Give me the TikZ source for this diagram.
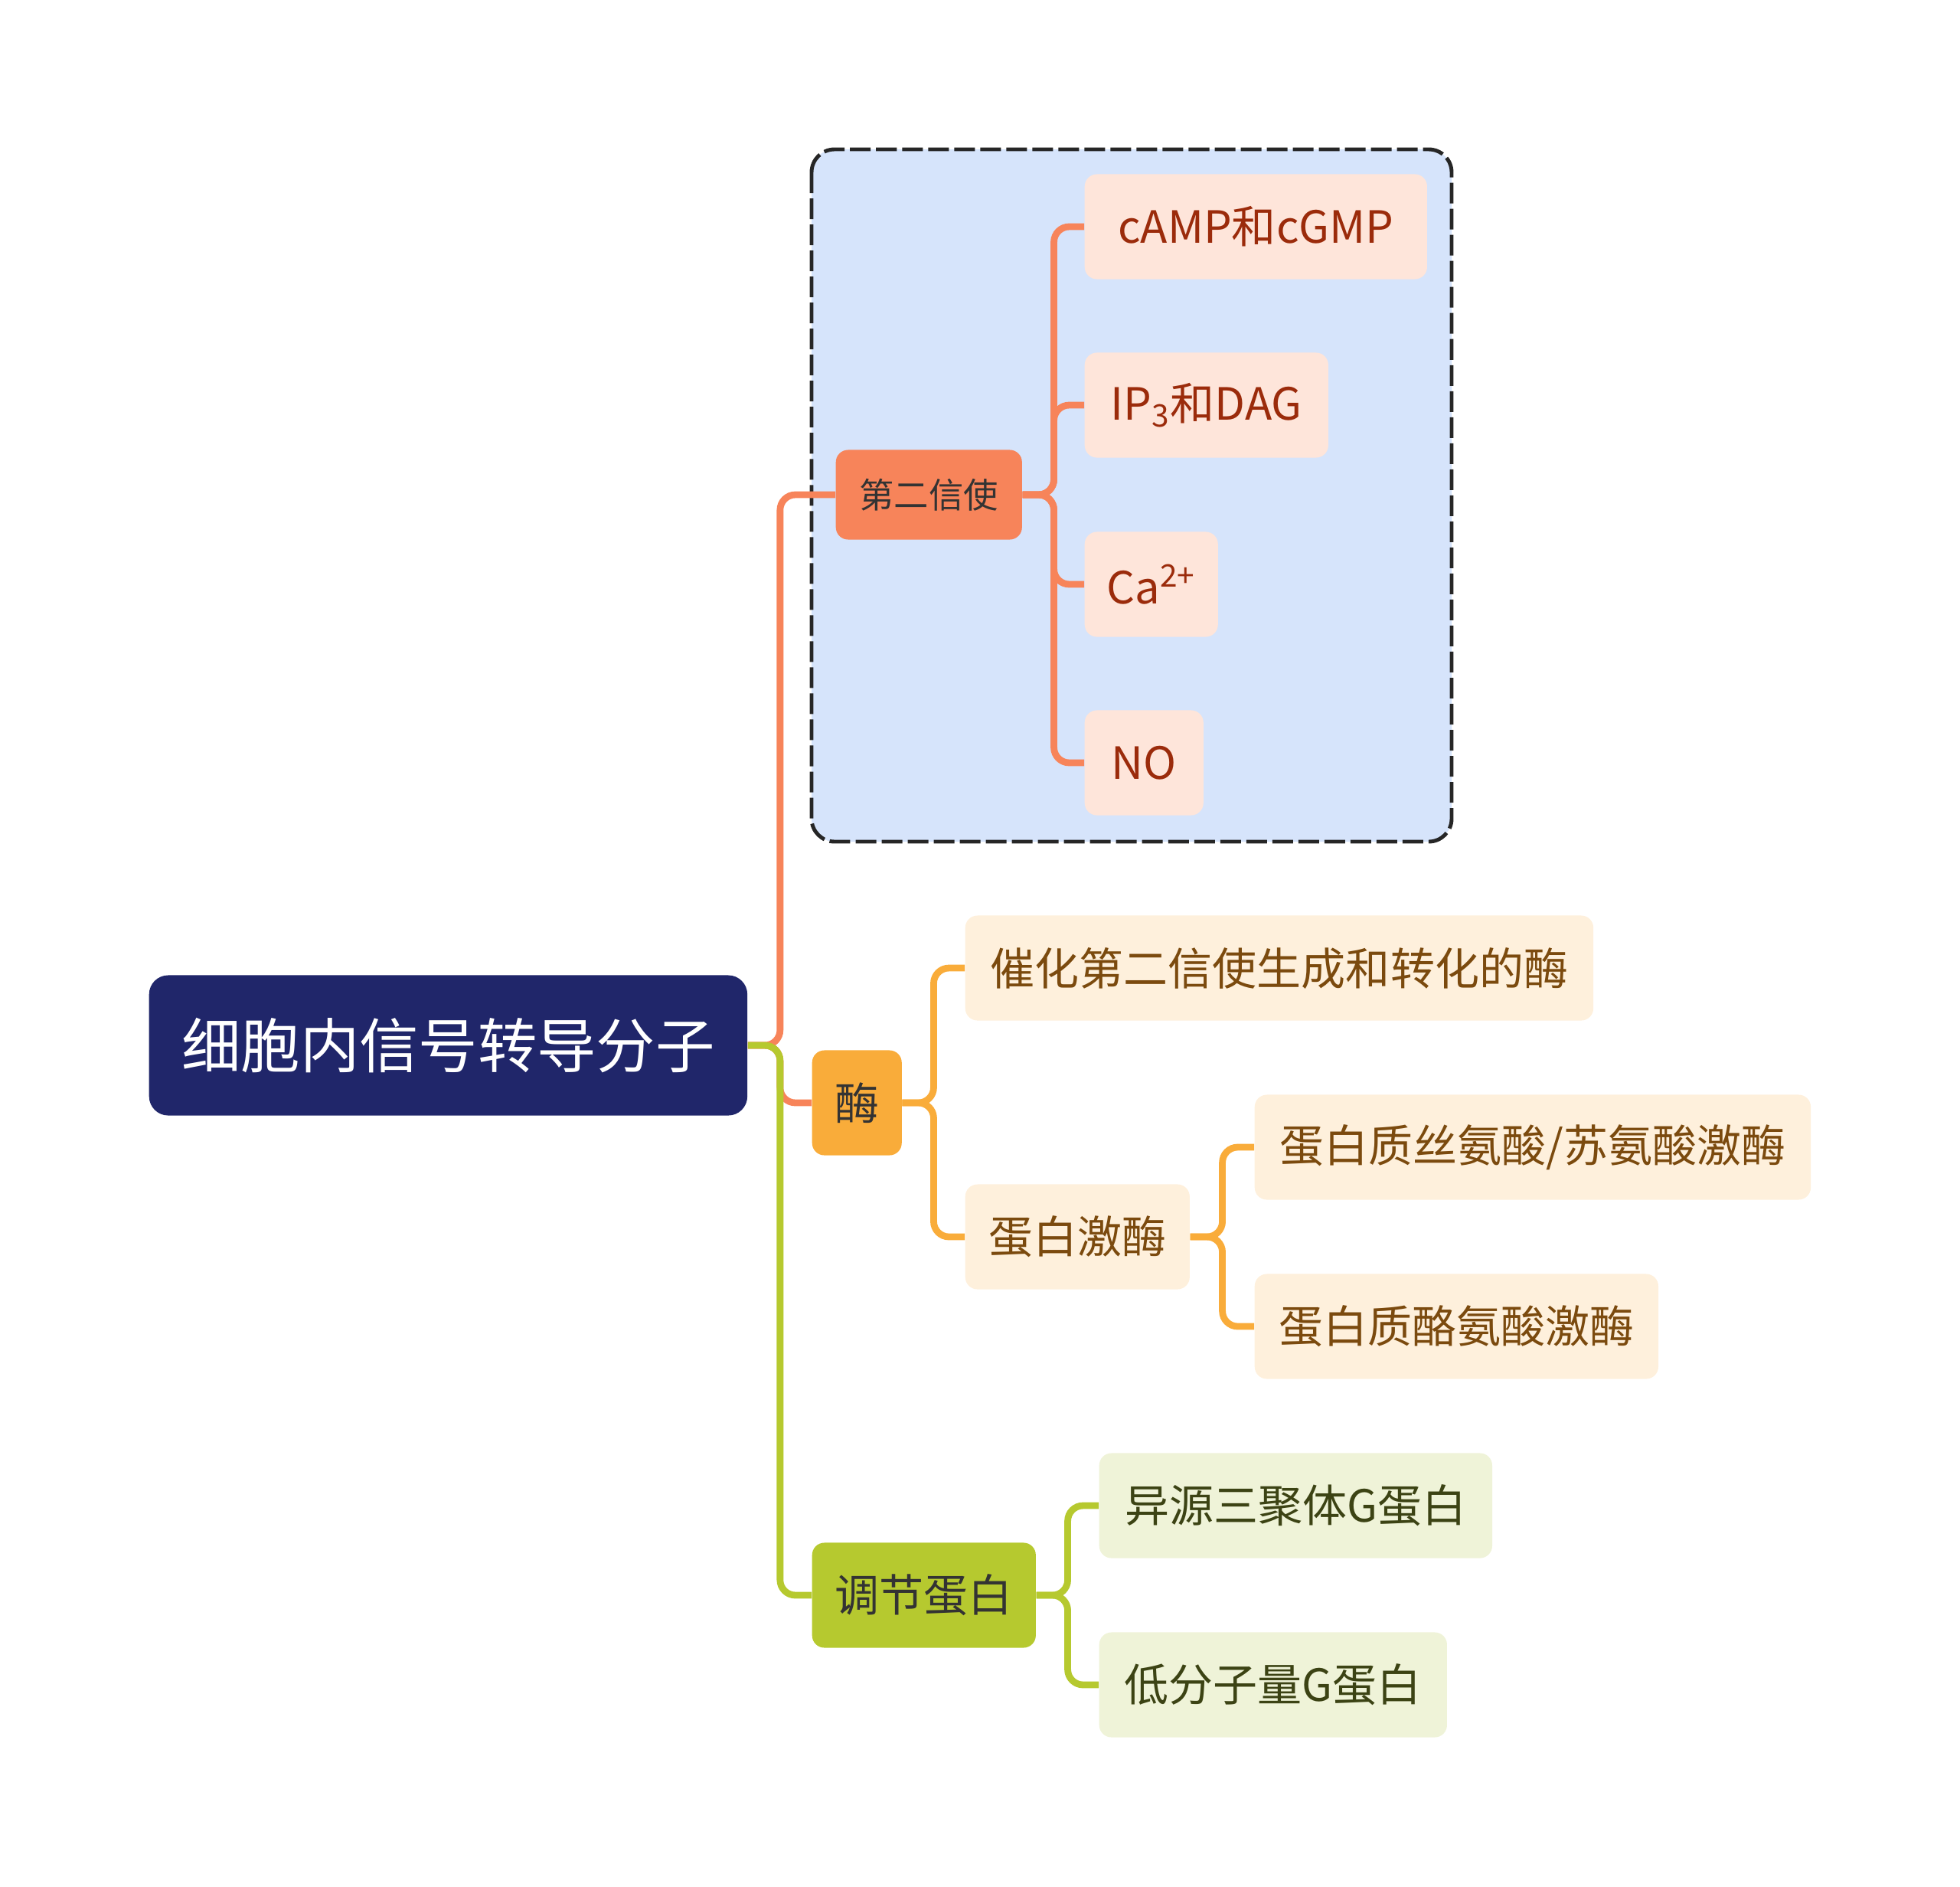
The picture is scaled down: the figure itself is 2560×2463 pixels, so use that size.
\documentclass[tikz,border=0pt]{standalone}
\usepackage{fontspec}
\setmainfont{Noto Sans CJK SC}
\usepackage{xcolor}
\usepackage{tikz}
\definecolor{navy}{HTML}{20266A}
\definecolor{coral}{HTML}{F7845A}
\definecolor{coralbg}{HTML}{FEE5DA}
\definecolor{coraltx}{HTML}{9B2B0B}
\definecolor{amber}{HTML}{F9AC3A}
\definecolor{amberbg}{HTML}{FEF0DC}
\definecolor{ambertx}{HTML}{7B4A0E}
\definecolor{olive}{HTML}{B6C92F}
\definecolor{olivebg}{HTML}{EFF3D8}
\definecolor{olivetx}{HTML}{3C4314}
\definecolor{framebg}{HTML}{D6E4FB}

\begin{document}
\begin{tikzpicture}[
    x=0.01cm, y=-0.01cm,
    main/.style={fill=navy, text=white, rounded corners=0.25cm, anchor=west,
                 minimum height=1.83cm, inner xsep=0.1cm,
                 font=\fontsize{22}{26}\selectfont},
    topic/.style={rounded corners=0.16cm, anchor=west, minimum height=1.37cm,
                  inner xsep=0.1cm, font=\fontsize{16.5}{20}\selectfont},
    leaf/.style={rounded corners=0.16cm, anchor=west, minimum height=1.37cm,
                 inner xsep=0.1cm, font=\fontsize{16.5}{20}\selectfont},
    link/.style={line width=2.5pt, rounded corners=0.2cm},
  ]
  \useasboundingbox (0,0) rectangle (2560,2463);

  % dashed frame round the second messengers
  \draw[fill=framebg, draw=black!85, line width=1.4pt,
        dash pattern=on 0.27cm off 0.07cm, rounded corners=0.3cm]
    (1060,195) rectangle (1896,1099);

  \node[main, minimum width=7.81cm] (root) at (194,1365) {细胞内信号转导分子};

  % second messengers
  \node[topic, fill=coral, text=black!80, minimum width=2.43cm,
        minimum height=1.17cm, font=\fontsize{12.9}{16}\selectfont]
    (msg) at (1091,646) {第二信使};
  \node[leaf, fill=coralbg, text=coraltx, minimum width=4.47cm] (camp) at (1416,296) {cAMP和cGMP};
  \node[leaf, fill=coralbg, text=coraltx, minimum width=3.18cm] (ip) at (1416,529) {IP\textsubscript{3}和DAG};
  \node[leaf, fill=coralbg, text=coraltx, minimum width=1.74cm] (ca) at (1416,763) {Ca\textsuperscript{2+}};
  \node[leaf, fill=coralbg, text=coraltx, minimum width=1.55cm] (no) at (1416,996) {NO};

  % enzymes
  \node[topic, fill=amber, text=black!80, minimum width=1.17cm] (enz) at (1060,1440) {酶};
  \node[leaf, fill=amberbg, text=ambertx, minimum width=8.2cm] (cat) at (1260,1264) {催化第二信使生成和转化的酶};
  \node[leaf, fill=amberbg, text=ambertx, minimum width=2.93cm] (pk) at (1260,1615) {蛋白激酶};
  \node[leaf, fill=amberbg, text=ambertx, minimum width=7.26cm] (ser) at (1638,1498) {蛋白质丝氨酸/苏氨酸激酶};
  \node[leaf, fill=amberbg, text=ambertx, minimum width=5.27cm] (tyr) at (1638,1732) {蛋白质酪氨酸激酶};

  % regulatory proteins
  \node[topic, fill=olive, text=black!80, minimum width=2.92cm] (reg) at (1060,2083) {调节蛋白};
  \node[leaf, fill=olivebg, text=olivetx, minimum width=5.13cm] (het) at (1435,1966) {异源三聚体G蛋白};
  \node[leaf, fill=olivebg, text=olivetx, minimum width=4.54cm] (sml) at (1435,2200) {低分子量G蛋白};

  \draw[link, coral] (root.east) -- ++(42,0) |- (msg.west);
  \draw[link, coral] (root.east) -- ++(42,0) |- (enz.west);
  \draw[link, olive] (root.east) -- ++(42,0) |- (reg.west);

  \draw[link, coral] (msg.east) -- ++(41,0) |- (camp.west);
  \draw[link, coral] (msg.east) -- ++(41,0) |- (ip.west);
  \draw[link, coral] (msg.east) -- ++(41,0) |- (ca.west);
  \draw[link, coral] (msg.east) -- ++(41,0) |- (no.west);

  \draw[link, amber] (enz.east) -- ++(41,0) |- (cat.west);
  \draw[link, amber] (enz.east) -- ++(41,0) |- (pk.west);
  \draw[link, amber] (pk.east) -- ++(42,0) |- (ser.west);
  \draw[link, amber] (pk.east) -- ++(42,0) |- (tyr.west);

  \draw[link, olive] (reg.east) -- ++(41,0) |- (het.west);
  \draw[link, olive] (reg.east) -- ++(41,0) |- (sml.west);

\end{tikzpicture}
\end{document}
